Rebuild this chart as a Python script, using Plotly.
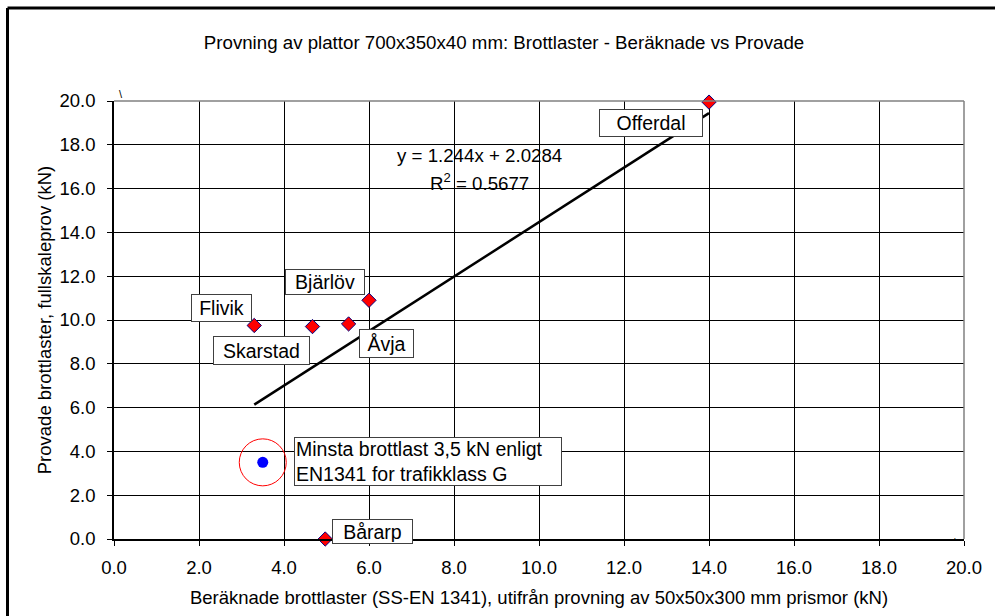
import plotly.graph_objects as go

# ---- data ----
site_names = ["Flivik", "Skarstad", "Åvja", "Bjärlöv", "Offerdal", "Bårarp"]
calc_loads = [3.3, 4.67, 5.52, 6.0, 14.0, 4.97]      # x: beräknade (kN)
test_loads = [9.75, 9.7, 9.82, 10.9, 19.95, 0.0]      # y: provade (kN)
min_load_x = [3.5]
min_load_y = [3.5]
trend_slope = 1.244
trend_intercept = 2.0284
trend_r2 = 0.5677
x_ticks = [0, 2, 4, 6, 8, 10, 12, 14, 16, 18, 20]
y_ticks = [0, 2, 4, 6, 8, 10, 12, 14, 16, 18, 20]

# label placement / box sizes (pixels) relative to each point
label_shift_x = [-33, -51, 38, -44, -58, 47]
label_shift_y = [17, -24, -20, 18, -21, 8]
label_box_w = [57, 93, 51, 76, 100, 77]
label_box_h = [24, 25, 25, 22, 24, 21]

FONT = "Liberation Sans, Arial, sans-serif"

trend_x = [min(calc_loads), max(calc_loads)]
trend_y = [trend_slope * v + trend_intercept for v in trend_x]

fig = go.Figure()

fig.add_trace(go.Scatter(
    x=trend_x, y=trend_y, mode="lines",
    line=dict(color="black", width=2.5), hoverinfo="skip", showlegend=False))

fig.add_trace(go.Scatter(
    x=calc_loads, y=test_loads, mode="markers",
    marker=dict(symbol="diamond", size=11, color="#FF0000",
                line=dict(color="#000080", width=1)),
    showlegend=False, cliponaxis=False))

fig.add_trace(go.Scatter(
    x=min_load_x, y=min_load_y, mode="markers",
    marker=dict(symbol="circle", size=11, color="#0000FF"),
    showlegend=False))

fig.add_trace(go.Scatter(
    x=min_load_x, y=min_load_y, mode="markers",
    marker=dict(symbol="circle-open", size=47, color="#FF0000",
                line=dict(color="#FF0000", width=1)),
    showlegend=False))

annotations = []
for name, xv, yv, sx, sy, bw, bh in zip(site_names, calc_loads, test_loads,
                                        label_shift_x, label_shift_y,
                                        label_box_w, label_box_h):
    annotations.append(dict(
        x=xv, y=yv, xref="x", yref="y", text=name, showarrow=False,
        xshift=sx, yshift=sy, width=bw, height=bh, align="center", valign="middle",
        font=dict(family=FONT, size=19.5, color="black"),
        bgcolor="white", bordercolor="#404040", borderwidth=1, borderpad=1))

annotations.append(dict(
    x=min_load_x[0], y=min_load_y[0], xref="x", yref="y",
    text="Minsta brottlast 3,5 kN enligt<br>EN1341 for trafikklass G",
    showarrow=False, align="left", xshift=165, yshift=1, width=264, height=45,
    font=dict(family=FONT, size=19.5, color="black"),
    bgcolor="white", bordercolor="#404040", borderwidth=1, borderpad=1))

annotations.append(dict(
    x=8.6, y=17.49, xref="x", yref="y",
    text=f"y = {trend_slope}x + {trend_intercept}", showarrow=False,
    font=dict(family=FONT, size=18.7, color="black")))
annotations.append(dict(
    x=8.61, y=16.3, xref="x", yref="y",
    text=f"R<sup>2</sup> = {trend_r2}", showarrow=False,
    font=dict(family=FONT, size=18.7, color="black")))

# small stray marks seen in the reference
annotations.append(dict(x=(117 - 114) / 850, y=(539 - 86) / 438, xref="paper", yref="paper",
                        text="\\", showarrow=False, font=dict(family=FONT, size=11)))
annotations.append(dict(x=(958 - 114) / 850, y=(539 - 548) / 438, xref="paper", yref="paper",
                        text="'", showarrow=False, font=dict(family=FONT, size=9)))

fig.update_layout(
    width=995, height=616,
    margin=dict(l=114, r=31, t=101, b=77),
    paper_bgcolor="white", plot_bgcolor="white",
    font=dict(family=FONT, size=18.5, color="black"),
    title=dict(text="Provning av plattor 700x350x40 mm: Brottlaster - Beräknade vs Provade",
               x=504 / 995, xref="container", xanchor="center",
               y=1 - 42 / 616, yref="container", yanchor="middle",
               font=dict(family=FONT, size=18.7, color="black")),
    annotations=annotations,
    showlegend=False,
    shapes=[
        dict(type="line", xref="paper", yref="paper", x0=0, x1=1, y0=1, y1=1,
             line=dict(color="#808080", width=1.5), layer="above"),
        dict(type="line", xref="paper", yref="paper", x0=1, x1=1, y0=0, y1=1,
             line=dict(color="#808080", width=1.5), layer="above"),
        dict(type="line", xref="paper", yref="paper",
             x0=(7.5 - 114) / 850, x1=(7.5 - 114) / 850, y0=-0.3, y1=(539 - 8) / 438,
             line=dict(color="black", width=3)),
        dict(type="line", xref="paper", yref="paper",
             x0=(7.5 - 114) / 850, x1=1.2, y0=(539 - 8) / 438, y1=(539 - 8) / 438,
             line=dict(color="black", width=3)),
    ],
)

fig.update_xaxes(
    range=[0, 20], tickvals=x_ticks, tickformat=".1f",
    showgrid=True, gridcolor="black", gridwidth=1,
    showline=True, linecolor="black", linewidth=1.5,
    ticks="outside", ticklen=5, tickcolor="black", ticklabelstandoff=6,
    zeroline=False,
    title=dict(text="Beräknade brottlaster (SS-EN 1341), utifrån provning av 50x50x300 mm prismor (kN)",
               font=dict(family=FONT, size=18.5), standoff=14),
)
fig.update_yaxes(
    range=[0, 20], tickvals=y_ticks, tickformat=".1f",
    showgrid=True, gridcolor="black", gridwidth=1,
    showline=True, linecolor="black", linewidth=1.5,
    ticks="outside", ticklen=5, tickcolor="black", ticklabelstandoff=8,
    zeroline=False,
    title=dict(text="Provade brottlaster, fullskaleprov (kN)",
               font=dict(family=FONT, size=18.5), standoff=3),
)

fig.write_html("out.html")
